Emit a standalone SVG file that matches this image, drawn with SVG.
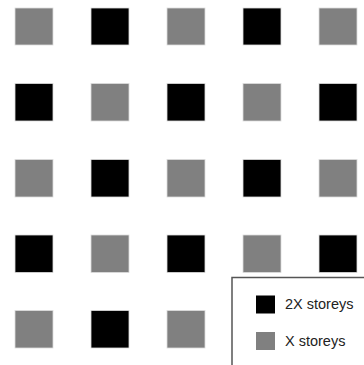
<svg xmlns="http://www.w3.org/2000/svg" width="364" height="365" viewBox="0 0 364 365">
<style>
.sq{stroke:#ddd;stroke-width:0.8}
.b{fill:#000}
.g{fill:#808080}
.t{font-family:"Liberation Sans",Arial,sans-serif;font-size:14.5px;fill:#222}
</style>
<rect width="364" height="365" fill="#fff"/>
<g id="grid">
<g id="r1">
<rect class="sq g" x="15" y="8" width="38" height="37"/>
<rect class="sq b" x="91" y="8" width="38" height="37"/>
<rect class="sq g" x="167" y="8" width="38" height="37"/>
<rect class="sq b" x="243" y="8" width="38" height="37"/>
<rect class="sq g" x="319" y="8" width="38" height="37"/>
</g>
<g id="r2">
<rect class="sq b" x="15" y="83.5" width="38" height="37.5"/>
<rect class="sq g" x="91" y="83.5" width="38" height="37.5"/>
<rect class="sq b" x="167" y="83.5" width="38" height="37.5"/>
<rect class="sq g" x="243" y="83.5" width="38" height="37.5"/>
<rect class="sq b" x="319" y="83.5" width="38" height="37.5"/>
</g>
<g id="r3">
<rect class="sq g" x="15" y="159.5" width="38" height="37.5"/>
<rect class="sq b" x="91" y="159.5" width="38" height="37.5"/>
<rect class="sq g" x="167" y="159.5" width="38" height="37.5"/>
<rect class="sq b" x="243" y="159.5" width="38" height="37.5"/>
<rect class="sq g" x="319" y="159.5" width="38" height="37.5"/>
</g>
<g id="r4">
<rect class="sq b" x="15" y="235" width="38" height="37.5"/>
<rect class="sq g" x="91" y="235" width="38" height="37.5"/>
<rect class="sq b" x="167" y="235" width="38" height="37.5"/>
<rect class="sq g" x="243" y="235" width="38" height="37.5"/>
<rect class="sq b" x="319" y="235" width="38" height="37.5"/>
</g>
<g id="r5">
<rect class="sq g" x="15" y="310.5" width="38" height="37.5"/>
<rect class="sq b" x="91" y="310.5" width="38" height="37.5"/>
<rect class="sq g" x="167" y="310.5" width="38" height="37.5"/>
</g>
</g>
<g id="legend">
<rect x="232" y="277.5" width="140" height="100" fill="#fff" stroke="#555" stroke-width="1.5"/>
<rect class="b" x="256" y="295.5" width="19" height="18"/>
<text class="t" x="285" y="309">2X storeys</text>
<rect class="g" x="256" y="332" width="19" height="18"/>
<text class="t" x="285" y="346">X storeys</text>
</g>
</svg>
